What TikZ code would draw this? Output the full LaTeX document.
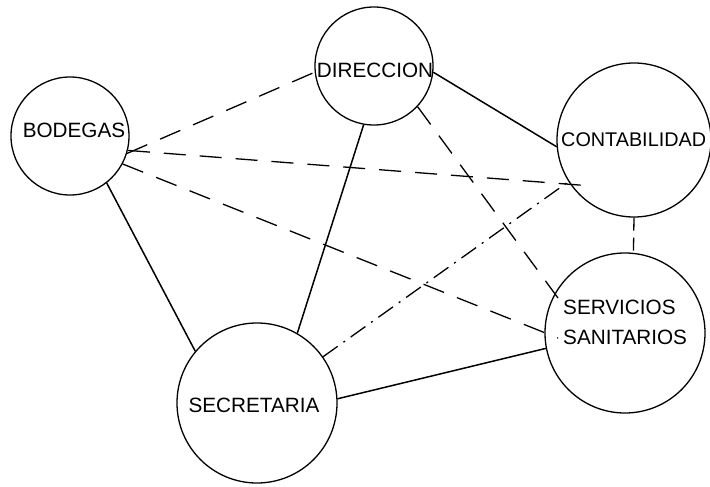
\documentclass[tikz,border=0pt]{standalone}
\usepackage{fontspec}
\setmainfont{Liberation Sans}
\begin{document}
\begin{tikzpicture}[x=1pt,y=-1pt,
  ent/.style={circle,draw,line width=1.3pt,minimum size=#1,inner sep=0pt},
  lab/.style={font=\fontsize{20.7}{30}\selectfont,inner sep=0pt},
  conn/.style={line width=1.5pt},
  dsh/.style={line width=1.3pt,dash pattern=on 22pt off 14pt},
  dshv/.style={line width=1.3pt,dash pattern=on 13pt off 7pt},
  dshdot/.style={line width=1.3pt,dash pattern=on 18pt off 7pt on 2pt off 7pt}]
\useasboundingbox (0,0) rectangle (710,487);
\fill[white] (0,0) rectangle (710,487);
\clip (0,0) rectangle (710,487);
% entities
\node[ent=118pt] (bod)  at (70,136) {};
\node[ent=118pt] (dir)  at (374,66) {};
\node[ent=154pt] (cont) at (634,140) {};
\node[ent=160pt] (serv) at (625,333) {};
\node[ent=160pt] (sec)  at (257,403) {};
% labels
\node[lab] (bodt) at (74,130) {BODEGAS};
\node[lab] (dirt) at (375,70) {DIRECCION};
\node[lab,anchor=west,font=\fontsize{19.8}{30}\selectfont] (contt) at (561,140) {CONTABILIDAD};
\node[lab,anchor=west,align=left] (servt) at (563,322) {SERVICIOS\\SANITARIOS};
\node[lab] (sect) at (254,405) {SECRETARIA};
% free ends inside circles
\coordinate (bcend) at (592,186);
\coordinate (bsend) at (558,338);
\coordinate (dsend) at (558,298);
\coordinate (scend) at (568,182);
% solid connectors
\draw[conn] (dir.-6) -- (cont.185);
\draw[conn] (dir.260) -- (sec.60);
\draw[conn] (bod.-52) -- (sec.140);
\draw[conn] (sec.3) -- (serv.191);
% dashed connectors
\draw[dsh] (bod.-17) -- (dir.186);
\draw[dsh] (bod.-14) -- (bcend);
\draw[dsh] (bod.-28) -- (bsend);
\draw[dsh] (dir.-43) -- (dsend);
\draw[dshv] (cont.-90) -- (serv.84);
\draw[dshdot] (sec.35) -- (scend);
\end{tikzpicture}
\end{document}
